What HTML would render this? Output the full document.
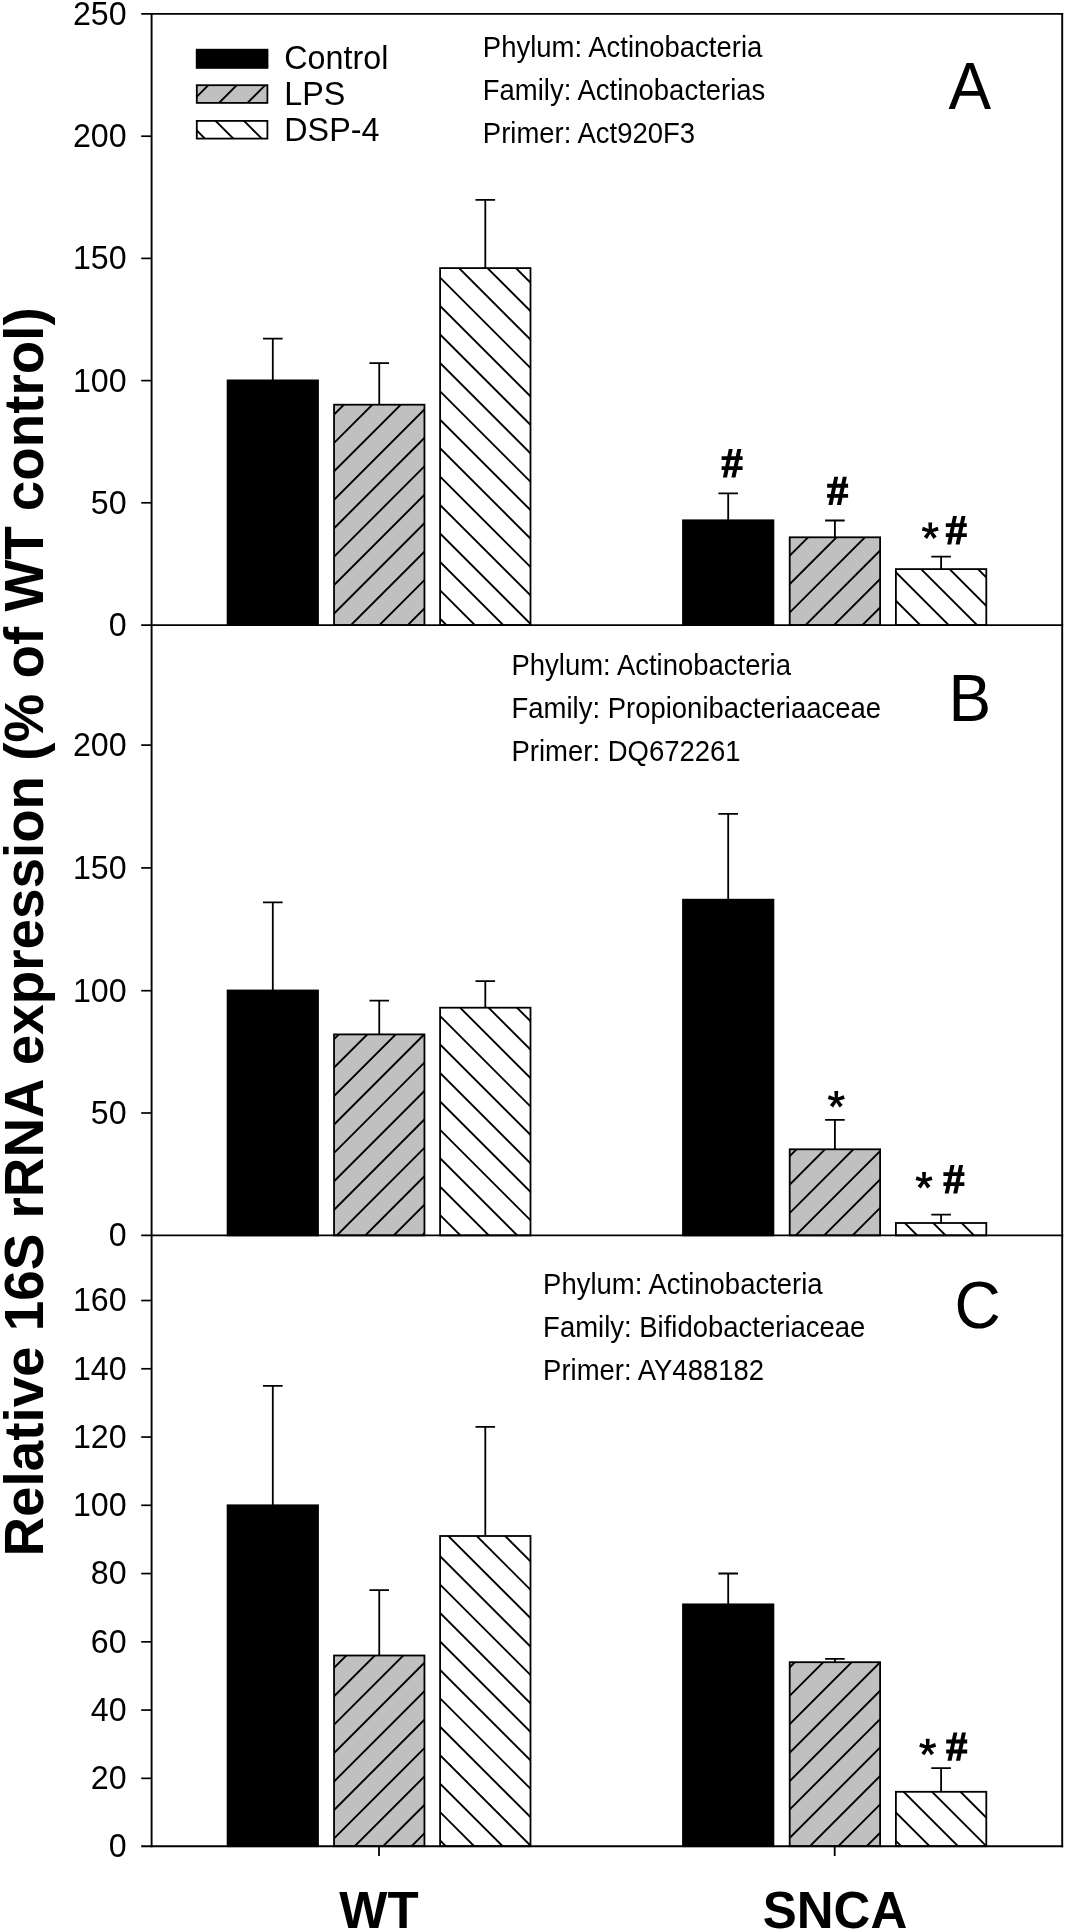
<!DOCTYPE html>
<html><head><meta charset="utf-8"><style>
html,body{margin:0;padding:0;background:#fff;}
body{width:1066px;height:1932px;overflow:hidden;}
svg{display:block;will-change:transform;}
text{font-family:"Liberation Sans", sans-serif;fill:#000;}
</style></head><body>
<svg width="1066" height="1932" viewBox="0 0 1066 1932">
<rect width="1066" height="1932" fill="#fff"/>
<defs><clipPath id="c1"><rect x="334.05" y="404.7" width="90.4" height="220.4"/></clipPath><clipPath id="c2"><rect x="440.1" y="268.1" width="90.4" height="357"/></clipPath><clipPath id="c3"><rect x="789.7" y="537.3" width="90.4" height="87.8"/></clipPath><clipPath id="c4"><rect x="895.9" y="569.1" width="90.4" height="56"/></clipPath><clipPath id="c5"><rect x="334.05" y="1034.4" width="90.4" height="201"/></clipPath><clipPath id="c6"><rect x="440.1" y="1007.7" width="90.4" height="227.7"/></clipPath><clipPath id="c7"><rect x="789.7" y="1149.3" width="90.4" height="86.1"/></clipPath><clipPath id="c8"><rect x="895.9" y="1223" width="90.4" height="12.4"/></clipPath><clipPath id="c9"><rect x="334.05" y="1655.5" width="90.4" height="190.7"/></clipPath><clipPath id="c10"><rect x="440.1" y="1536" width="90.4" height="310.2"/></clipPath><clipPath id="c11"><rect x="789.7" y="1662.2" width="90.4" height="184"/></clipPath><clipPath id="c12"><rect x="895.9" y="1791.8" width="90.4" height="54.4"/></clipPath><clipPath id="c13"><rect x="196.8" y="85.2" width="70.6" height="17.7"/></clipPath><clipPath id="c14"><rect x="196.8" y="120.9" width="70.6" height="17.7"/></clipPath></defs>
<path d="M272.8 380.4V338.6M263 338.6H282.6" stroke="#000" stroke-width="1.8" fill="none"/>
<rect x="227.6" y="380.4" width="90.4" height="244.7" fill="#000" stroke="#000" stroke-width="1.8"/>
<path d="M379.25 404.7V363.2M369.45 363.2H389.05" stroke="#000" stroke-width="1.8" fill="none"/>
<rect x="334.05" y="404.7" width="90.4" height="220.4" fill="#c0c0c0"/><path clip-path="url(#c1)" d="M63.64 628.1L290.04 401.7M92.07 628.1L318.47 401.7M120.5 628.1L346.9 401.7M148.93 628.1L375.33 401.7M177.36 628.1L403.76 401.7M205.79 628.1L432.19 401.7M234.22 628.1L460.62 401.7M262.65 628.1L489.05 401.7M291.08 628.1L517.48 401.7M319.51 628.1L545.91 401.7M347.94 628.1L574.34 401.7M376.37 628.1L602.77 401.7M404.8 628.1L631.2 401.7M433.23 628.1L659.63 401.7M461.66 628.1L688.06 401.7" stroke="#000" stroke-width="1.9" fill="none"/><rect x="334.05" y="404.7" width="90.4" height="220.4" fill="none" stroke="#000" stroke-width="1.8"/>
<path d="M485.3 268.1V199.8M475.5 199.8H495.1" stroke="#000" stroke-width="1.8" fill="none"/>
<rect x="440.1" y="268.1" width="90.4" height="357" fill="#fff"/><path clip-path="url(#c2)" d="M437.1 132.45L533.5 228.85M437.1 160.88L533.5 257.28M437.1 189.31L533.5 285.71M437.1 217.74L533.5 314.14M437.1 246.17L533.5 342.57M437.1 274.6L533.5 371M437.1 303.03L533.5 399.43M437.1 331.46L533.5 427.86M437.1 359.89L533.5 456.29M437.1 388.32L533.5 484.72M437.1 416.75L533.5 513.15M437.1 445.18L533.5 541.58M437.1 473.61L533.5 570.01M437.1 502.04L533.5 598.44M437.1 530.47L533.5 626.87M437.1 558.9L533.5 655.3M437.1 587.33L533.5 683.73M437.1 615.76L533.5 712.16M437.1 644.19L533.5 740.59M437.1 672.62L533.5 769.02" stroke="#000" stroke-width="1.9" fill="none"/><rect x="440.1" y="268.1" width="90.4" height="357" fill="none" stroke="#000" stroke-width="1.8"/>
<path d="M728.2 520.3V493.3M718.4 493.3H738" stroke="#000" stroke-width="1.8" fill="none"/>
<rect x="683" y="520.3" width="90.4" height="104.8" fill="#000" stroke="#000" stroke-width="1.8"/>
<path d="M834.9 537.3V520.5M825.1 520.5H844.7" stroke="#000" stroke-width="1.8" fill="none"/>
<rect x="789.7" y="537.3" width="90.4" height="87.8" fill="#c0c0c0"/><path clip-path="url(#c3)" d="M660.44 628.1L754.24 534.3M688.87 628.1L782.67 534.3M717.3 628.1L811.1 534.3M745.73 628.1L839.53 534.3M774.16 628.1L867.96 534.3M802.59 628.1L896.39 534.3M831.02 628.1L924.82 534.3M859.45 628.1L953.25 534.3M887.88 628.1L981.68 534.3M916.31 628.1L1010.11 534.3" stroke="#000" stroke-width="1.9" fill="none"/><rect x="789.7" y="537.3" width="90.4" height="87.8" fill="none" stroke="#000" stroke-width="1.8"/>
<path d="M941.1 569.1V556.7M931.3 556.7H950.9" stroke="#000" stroke-width="1.8" fill="none"/>
<rect x="895.9" y="569.1" width="90.4" height="56" fill="#fff"/><path clip-path="url(#c4)" d="M892.9 427.15L989.3 523.55M892.9 455.58L989.3 551.98M892.9 484.01L989.3 580.41M892.9 512.44L989.3 608.84M892.9 540.87L989.3 637.27M892.9 569.3L989.3 665.7M892.9 597.73L989.3 694.13M892.9 626.16L989.3 722.56M892.9 654.59L989.3 750.99" stroke="#000" stroke-width="1.9" fill="none"/><rect x="895.9" y="569.1" width="90.4" height="56" fill="none" stroke="#000" stroke-width="1.8"/>
<path d="M272.8 990.5V902.3M263 902.3H282.6" stroke="#000" stroke-width="1.8" fill="none"/>
<rect x="227.6" y="990.5" width="90.4" height="244.9" fill="#000" stroke="#000" stroke-width="1.8"/>
<path d="M379.25 1034.4V1000.6M369.45 1000.6H389.05" stroke="#000" stroke-width="1.8" fill="none"/>
<rect x="334.05" y="1034.4" width="90.4" height="201" fill="#c0c0c0"/><path clip-path="url(#c5)" d="M78.01 1238.4L285.01 1031.4M106.44 1238.4L313.44 1031.4M134.87 1238.4L341.87 1031.4M163.3 1238.4L370.3 1031.4M191.73 1238.4L398.73 1031.4M220.16 1238.4L427.16 1031.4M248.59 1238.4L455.59 1031.4M277.02 1238.4L484.02 1031.4M305.45 1238.4L512.45 1031.4M333.88 1238.4L540.88 1031.4M362.31 1238.4L569.31 1031.4M390.74 1238.4L597.74 1031.4M419.17 1238.4L626.17 1031.4M447.6 1238.4L654.6 1031.4M476.03 1238.4L683.03 1031.4" stroke="#000" stroke-width="1.9" fill="none"/><rect x="334.05" y="1034.4" width="90.4" height="201" fill="none" stroke="#000" stroke-width="1.8"/>
<path d="M485.3 1007.7V981.1M475.5 981.1H495.1" stroke="#000" stroke-width="1.8" fill="none"/>
<rect x="440.1" y="1007.7" width="90.4" height="227.7" fill="#fff"/><path clip-path="url(#c6)" d="M437.1 870.95L533.5 967.35M437.1 899.38L533.5 995.78M437.1 927.81L533.5 1024.21M437.1 956.24L533.5 1052.64M437.1 984.67L533.5 1081.07M437.1 1013.1L533.5 1109.5M437.1 1041.53L533.5 1137.93M437.1 1069.96L533.5 1166.36M437.1 1098.39L533.5 1194.79M437.1 1126.82L533.5 1223.22M437.1 1155.25L533.5 1251.65M437.1 1183.68L533.5 1280.08M437.1 1212.11L533.5 1308.51M437.1 1240.54L533.5 1336.94M437.1 1268.97L533.5 1365.37" stroke="#000" stroke-width="1.9" fill="none"/><rect x="440.1" y="1007.7" width="90.4" height="227.7" fill="none" stroke="#000" stroke-width="1.8"/>
<path d="M728.2 899.7V813.9M718.4 813.9H738" stroke="#000" stroke-width="1.8" fill="none"/>
<rect x="683" y="899.7" width="90.4" height="335.7" fill="#000" stroke="#000" stroke-width="1.8"/>
<path d="M834.9 1149.3V1119.8M825.1 1119.8H844.7" stroke="#000" stroke-width="1.8" fill="none"/>
<rect x="789.7" y="1149.3" width="90.4" height="86.1" fill="#c0c0c0"/><path clip-path="url(#c7)" d="M650.61 1238.4L742.71 1146.3M679.04 1238.4L771.14 1146.3M707.47 1238.4L799.57 1146.3M735.9 1238.4L828 1146.3M764.33 1238.4L856.43 1146.3M792.76 1238.4L884.86 1146.3M821.19 1238.4L913.29 1146.3M849.62 1238.4L941.72 1146.3M878.05 1238.4L970.15 1146.3M906.48 1238.4L998.58 1146.3" stroke="#000" stroke-width="1.9" fill="none"/><rect x="789.7" y="1149.3" width="90.4" height="86.1" fill="none" stroke="#000" stroke-width="1.8"/>
<path d="M941.1 1223V1214.7M931.3 1214.7H950.9" stroke="#000" stroke-width="1.8" fill="none"/>
<rect x="895.9" y="1223" width="90.4" height="12.4" fill="#fff"/><path clip-path="url(#c8)" d="M892.9 1097.38L989.3 1193.78M892.9 1125.81L989.3 1222.21M892.9 1154.24L989.3 1250.64M892.9 1182.67L989.3 1279.07M892.9 1211.1L989.3 1307.5M892.9 1239.53L989.3 1335.93M892.9 1267.96L989.3 1364.36" stroke="#000" stroke-width="1.9" fill="none"/><rect x="895.9" y="1223" width="90.4" height="12.4" fill="none" stroke="#000" stroke-width="1.8"/>
<path d="M272.8 1505.3V1385.9M263 1385.9H282.6" stroke="#000" stroke-width="1.8" fill="none"/>
<rect x="227.6" y="1505.3" width="90.4" height="340.9" fill="#000" stroke="#000" stroke-width="1.8"/>
<path d="M379.25 1655.5V1590.1M369.45 1590.1H389.05" stroke="#000" stroke-width="1.8" fill="none"/>
<rect x="334.05" y="1655.5" width="90.4" height="190.7" fill="#c0c0c0"/><path clip-path="url(#c9)" d="M95.84 1849.2L292.54 1652.5M124.27 1849.2L320.97 1652.5M152.7 1849.2L349.4 1652.5M181.13 1849.2L377.83 1652.5M209.56 1849.2L406.26 1652.5M237.99 1849.2L434.69 1652.5M266.42 1849.2L463.12 1652.5M294.85 1849.2L491.55 1652.5M323.28 1849.2L519.98 1652.5M351.71 1849.2L548.41 1652.5M380.14 1849.2L576.84 1652.5M408.57 1849.2L605.27 1652.5M437 1849.2L633.7 1652.5M465.43 1849.2L662.13 1652.5" stroke="#000" stroke-width="1.9" fill="none"/><rect x="334.05" y="1655.5" width="90.4" height="190.7" fill="none" stroke="#000" stroke-width="1.8"/>
<path d="M485.3 1536V1426.8M475.5 1426.8H495.1" stroke="#000" stroke-width="1.8" fill="none"/>
<rect x="440.1" y="1536" width="90.4" height="310.2" fill="#fff"/><path clip-path="url(#c10)" d="M437.1 1411.05L533.5 1507.45M437.1 1439.48L533.5 1535.88M437.1 1467.91L533.5 1564.31M437.1 1496.34L533.5 1592.74M437.1 1524.77L533.5 1621.17M437.1 1553.2L533.5 1649.6M437.1 1581.63L533.5 1678.03M437.1 1610.06L533.5 1706.46M437.1 1638.49L533.5 1734.89M437.1 1666.92L533.5 1763.32M437.1 1695.35L533.5 1791.75M437.1 1723.78L533.5 1820.18M437.1 1752.21L533.5 1848.61M437.1 1780.64L533.5 1877.04M437.1 1809.07L533.5 1905.47M437.1 1837.5L533.5 1933.9M437.1 1865.93L533.5 1962.33M437.1 1894.36L533.5 1990.76" stroke="#000" stroke-width="1.9" fill="none"/><rect x="440.1" y="1536" width="90.4" height="310.2" fill="none" stroke="#000" stroke-width="1.8"/>
<path d="M728.2 1604.35V1573.5M718.4 1573.5H738" stroke="#000" stroke-width="1.8" fill="none"/>
<rect x="683" y="1604.35" width="90.4" height="241.85" fill="#000" stroke="#000" stroke-width="1.8"/>
<path d="M834.9 1662.2V1658.8M825.1 1658.8H844.7" stroke="#000" stroke-width="1.8" fill="none"/>
<rect x="789.7" y="1662.2" width="90.4" height="184" fill="#c0c0c0"/><path clip-path="url(#c11)" d="M551.01 1849.2L741.01 1659.2M579.44 1849.2L769.44 1659.2M607.87 1849.2L797.87 1659.2M636.3 1849.2L826.3 1659.2M664.73 1849.2L854.73 1659.2M693.16 1849.2L883.16 1659.2M721.59 1849.2L911.59 1659.2M750.02 1849.2L940.02 1659.2M778.45 1849.2L968.45 1659.2M806.88 1849.2L996.88 1659.2M835.31 1849.2L1025.31 1659.2M863.74 1849.2L1053.74 1659.2M892.17 1849.2L1082.17 1659.2M920.6 1849.2L1110.6 1659.2" stroke="#000" stroke-width="1.9" fill="none"/><rect x="789.7" y="1662.2" width="90.4" height="184" fill="none" stroke="#000" stroke-width="1.8"/>
<path d="M941.1 1791.8V1768.2M931.3 1768.2H950.9" stroke="#000" stroke-width="1.8" fill="none"/>
<rect x="895.9" y="1791.8" width="90.4" height="54.4" fill="#fff"/><path clip-path="url(#c12)" d="M892.9 1667.35L989.3 1763.75M892.9 1695.78L989.3 1792.18M892.9 1724.21L989.3 1820.61M892.9 1752.64L989.3 1849.04M892.9 1781.07L989.3 1877.47M892.9 1809.5L989.3 1905.9M892.9 1837.93L989.3 1934.33M892.9 1866.36L989.3 1962.76M892.9 1894.79L989.3 1991.19" stroke="#000" stroke-width="1.9" fill="none"/><rect x="895.9" y="1791.8" width="90.4" height="54.4" fill="none" stroke="#000" stroke-width="1.8"/>
<path d="M151.6 12.95V1847.15" stroke="#000" stroke-width="1.9"/>
<path d="M1062.2 12.95V1847.15" stroke="#000" stroke-width="1.9"/>
<path d="M141.2 13.9H1063.15" stroke="#000" stroke-width="1.9"/>
<path d="M141.2 625.1H1063.15" stroke="#000" stroke-width="1.9"/>
<path d="M141.2 1235.4H1063.15" stroke="#000" stroke-width="1.9"/>
<path d="M141.2 1846.2H1063.15" stroke="#000" stroke-width="1.9"/>
<path d="M141.2 502.8H151.6" stroke="#000" stroke-width="1.7"/>
<path d="M141.2 380.6H151.6" stroke="#000" stroke-width="1.7"/>
<path d="M141.2 258.4H151.6" stroke="#000" stroke-width="1.7"/>
<path d="M141.2 136.2H151.6" stroke="#000" stroke-width="1.7"/>
<path d="M141.2 1113H151.6" stroke="#000" stroke-width="1.7"/>
<path d="M141.2 990.7H151.6" stroke="#000" stroke-width="1.7"/>
<path d="M141.2 867.9H151.6" stroke="#000" stroke-width="1.7"/>
<path d="M141.2 745.1H151.6" stroke="#000" stroke-width="1.7"/>
<path d="M141.2 1778.34H151.6" stroke="#000" stroke-width="1.7"/>
<path d="M141.2 1710.08H151.6" stroke="#000" stroke-width="1.7"/>
<path d="M141.2 1641.82H151.6" stroke="#000" stroke-width="1.7"/>
<path d="M141.2 1573.56H151.6" stroke="#000" stroke-width="1.7"/>
<path d="M141.2 1505.3H151.6" stroke="#000" stroke-width="1.7"/>
<path d="M141.2 1437.04H151.6" stroke="#000" stroke-width="1.7"/>
<path d="M141.2 1368.78H151.6" stroke="#000" stroke-width="1.7"/>
<path d="M141.2 1300.52H151.6" stroke="#000" stroke-width="1.7"/>
<path d="M379 1846.2V1856" stroke="#000" stroke-width="1.8"/>
<path d="M834.7 1846.2V1856" stroke="#000" stroke-width="1.8"/>
<rect x="196.6" y="49.6" width="71" height="18.4" fill="#000" stroke="#000" stroke-width="1.6"/>
<rect x="196.8" y="85.2" width="70.6" height="17.7" fill="#c0c0c0"/><path clip-path="url(#c13)" d="M130.74 105.9L154.44 82.2M159.17 105.9L182.87 82.2M187.6 105.9L211.3 82.2M216.03 105.9L239.73 82.2M244.46 105.9L268.16 82.2M272.89 105.9L296.59 82.2M301.32 105.9L325.02 82.2" stroke="#000" stroke-width="1.9" fill="none"/><rect x="196.8" y="85.2" width="70.6" height="17.7" fill="none" stroke="#000" stroke-width="1.8"/>
<rect x="196.8" y="120.9" width="70.6" height="17.7" fill="#fff"/><path clip-path="url(#c14)" d="M193.8 13.79L270.4 90.39M193.8 42.22L270.4 118.82M193.8 70.65L270.4 147.25M193.8 99.08L270.4 175.68M193.8 127.51L270.4 204.11M193.8 155.94L270.4 232.54M193.8 184.37L270.4 260.97" stroke="#000" stroke-width="1.9" fill="none"/><rect x="196.8" y="120.9" width="70.6" height="17.7" fill="none" stroke="#000" stroke-width="1.8"/>
<text transform="translate(126.6 24.8) scale(1 1.041)" font-size="32.2" text-anchor="end">250</text>
<text transform="translate(126.6 636) scale(1 1.041)" font-size="32.2" text-anchor="end">0</text>
<text transform="translate(126.6 1246.3) scale(1 1.041)" font-size="32.2" text-anchor="end">0</text>
<text transform="translate(126.6 1857.1) scale(1 1.041)" font-size="32.2" text-anchor="end">0</text>
<text transform="translate(126.6 513.7) scale(1 1.041)" font-size="32.2" text-anchor="end">50</text>
<text transform="translate(126.6 391.5) scale(1 1.041)" font-size="32.2" text-anchor="end">100</text>
<text transform="translate(126.6 269.3) scale(1 1.041)" font-size="32.2" text-anchor="end">150</text>
<text transform="translate(126.6 147.1) scale(1 1.041)" font-size="32.2" text-anchor="end">200</text>
<text transform="translate(126.6 1123.9) scale(1 1.041)" font-size="32.2" text-anchor="end">50</text>
<text transform="translate(126.6 1001.6) scale(1 1.041)" font-size="32.2" text-anchor="end">100</text>
<text transform="translate(126.6 878.8) scale(1 1.041)" font-size="32.2" text-anchor="end">150</text>
<text transform="translate(126.6 756) scale(1 1.041)" font-size="32.2" text-anchor="end">200</text>
<text transform="translate(126.6 1789.24) scale(1 1.041)" font-size="32.2" text-anchor="end">20</text>
<text transform="translate(126.6 1720.98) scale(1 1.041)" font-size="32.2" text-anchor="end">40</text>
<text transform="translate(126.6 1652.72) scale(1 1.041)" font-size="32.2" text-anchor="end">60</text>
<text transform="translate(126.6 1584.46) scale(1 1.041)" font-size="32.2" text-anchor="end">80</text>
<text transform="translate(126.6 1516.2) scale(1 1.041)" font-size="32.2" text-anchor="end">100</text>
<text transform="translate(126.6 1447.94) scale(1 1.041)" font-size="32.2" text-anchor="end">120</text>
<text transform="translate(126.6 1379.68) scale(1 1.041)" font-size="32.2" text-anchor="end">140</text>
<text transform="translate(126.6 1311.42) scale(1 1.041)" font-size="32.2" text-anchor="end">160</text>
<text transform="translate(379 1928) scale(1 1.02)" font-size="51" text-anchor="middle" font-weight="bold">WT</text>
<text transform="translate(835 1928) scale(1 1.02)" font-size="51" text-anchor="middle" font-weight="bold">SNCA</text>
<text transform="translate(43.2 931.9) rotate(-90) scale(1 1.02)" font-size="54.8" text-anchor="middle" font-weight="bold">Relative 16S rRNA expression (% of WT control)</text>
<text transform="translate(284.3 69.4) scale(1 1.041)" font-size="32.3">Control</text>
<text transform="translate(284.3 104.8) scale(1 1.041)" font-size="32.3">LPS</text>
<text transform="translate(284.3 140.6) scale(1 1.041)" font-size="32.3">DSP-4</text>
<text transform="translate(482.8 56.9) scale(1 1.041)" font-size="27.5">Phylum: Actinobacteria</text>
<text transform="translate(482.8 100.1) scale(1 1.041)" font-size="27.5">Family: Actinobacterias</text>
<text transform="translate(482.8 143.3) scale(1 1.041)" font-size="27.5">Primer: Act920F3</text>
<text transform="translate(511.5 675.2) scale(1 1.041)" font-size="27.5">Phylum: Actinobacteria</text>
<text transform="translate(511.5 718) scale(1 1.041)" font-size="27.5">Family: Propionibacteriaaceae</text>
<text transform="translate(511.5 760.8) scale(1 1.041)" font-size="27.5">Primer: DQ672261</text>
<text transform="translate(543.1 1294) scale(1 1.041)" font-size="27.5">Phylum: Actinobacteria</text>
<text transform="translate(543.1 1336.8) scale(1 1.041)" font-size="27.5">Family: Bifidobacteriaceae</text>
<text transform="translate(543.1 1379.6) scale(1 1.041)" font-size="27.5">Primer: AY488182</text>
<text transform="translate(948.6 108.8) scale(1 1.041)" font-size="64">A</text>
<text transform="translate(948.6 721.4) scale(1 1.041)" font-size="64">B</text>
<text transform="translate(954.5 1328) scale(1 1.041)" font-size="64">C</text>
<path d="M728.8 449.1L732.7 449.1L727 477.5L722.9 477.5ZM737.3 449.1L741.3 449.1L735.5 477.5L731.4 477.5ZM721.6 456.2L742.6 456.2L742.6 460.1L721.6 460.1ZM721.6 466.3L742.6 466.3L742.6 470.1L721.6 470.1Z" fill="#000"/>
<path d="M834.3 476.7L838.2 476.7L832.5 505.1L828.4 505.1ZM842.8 476.7L846.8 476.7L841 505.1L836.9 505.1ZM827.1 483.8L848.1 483.8L848.1 487.7L827.1 487.7ZM827.1 493.9L848.1 493.9L848.1 497.7L827.1 497.7Z" fill="#000"/>
<path d="M931.7 531.1L932.2 522.4L928.3 522.4L928.8 531.1ZM930.7 529.72L922.96 526.68L921.75 530.39L929.8 532.48ZM930.7 532.48L938.75 530.39L937.54 526.68L929.8 529.72ZM929.08 530.25L923.85 536.59L927.01 538.88L931.42 531.95ZM929.08 531.95L933.49 538.88L936.65 536.59L931.42 530.25ZM928.65 531.1a1.6 1.6 0 1 0 3.2 0a1.6 1.6 0 1 0 -3.2 0Z" fill="#000"/>
<path d="M953 516.1L956.9 516.1L951.2 544.5L947.1 544.5ZM961.5 516.1L965.5 516.1L959.7 544.5L955.6 544.5ZM945.8 523.2L966.8 523.2L966.8 527.1L945.8 527.1ZM945.8 533.3L966.8 533.3L966.8 537.1L945.8 537.1Z" fill="#000"/>
<path d="M837.75 1099.6L838.25 1090.9L834.35 1090.9L834.85 1099.6ZM836.75 1098.22L829.01 1095.18L827.8 1098.89L835.85 1100.98ZM836.75 1100.98L844.8 1098.89L843.59 1095.18L835.85 1098.22ZM835.13 1098.75L829.9 1105.09L833.06 1107.38L837.47 1100.45ZM835.13 1100.45L839.54 1107.38L842.7 1105.09L837.47 1098.75ZM834.7 1099.6a1.6 1.6 0 1 0 3.2 0a1.6 1.6 0 1 0 -3.2 0Z" fill="#000"/>
<path d="M925.5 1180.6L926 1171.9L922.1 1171.9L922.6 1180.6ZM924.5 1179.22L916.76 1176.18L915.55 1179.89L923.6 1181.98ZM924.5 1181.98L932.55 1179.89L931.34 1176.18L923.6 1179.22ZM922.88 1179.75L917.65 1186.09L920.81 1188.38L925.22 1181.45ZM922.88 1181.45L927.29 1188.38L930.45 1186.09L925.22 1179.75ZM922.45 1180.6a1.6 1.6 0 1 0 3.2 0a1.6 1.6 0 1 0 -3.2 0Z" fill="#000"/>
<path d="M950.6 1165.1L954.5 1165.1L948.8 1193.5L944.7 1193.5ZM959.1 1165.1L963.1 1165.1L957.3 1193.5L953.2 1193.5ZM943.4 1172.2L964.4 1172.2L964.4 1176.1L943.4 1176.1ZM943.4 1182.3L964.4 1182.3L964.4 1186.1L943.4 1186.1Z" fill="#000"/>
<path d="M929.15 1747.5L929.65 1738.8L925.75 1738.8L926.25 1747.5ZM928.15 1746.12L920.41 1743.08L919.2 1746.79L927.25 1748.88ZM928.15 1748.88L936.2 1746.79L934.99 1743.08L927.25 1746.12ZM926.53 1746.65L921.3 1752.99L924.46 1755.28L928.87 1748.35ZM926.53 1748.35L930.94 1755.28L934.1 1752.99L928.87 1746.65ZM926.1 1747.5a1.6 1.6 0 1 0 3.2 0a1.6 1.6 0 1 0 -3.2 0Z" fill="#000"/>
<path d="M953.4 1732.4L957.3 1732.4L951.6 1760.8L947.5 1760.8ZM961.9 1732.4L965.9 1732.4L960.1 1760.8L956 1760.8ZM946.2 1739.5L967.2 1739.5L967.2 1743.4L946.2 1743.4ZM946.2 1749.6L967.2 1749.6L967.2 1753.4L946.2 1753.4Z" fill="#000"/>
</svg>
</body></html>
